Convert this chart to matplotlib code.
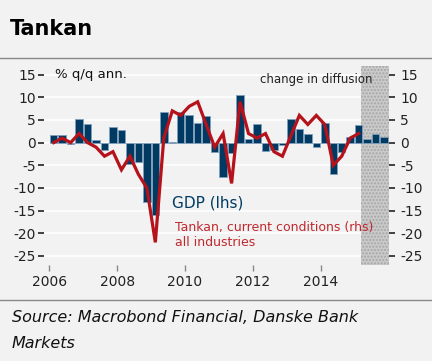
import numpy as np
import matplotlib.pyplot as plt

plt.rcParams['axes.unicode_minus'] = False

# quarterly data, 2006Q1 onwards
gdp = [1.7, 1.7, -0.4, 5.1,
       4.0, 0.6, -1.6, 3.5,
       2.7, -4.7, -4.3, -13.2,
       -16.0, 6.8, 0.2, 6.8,
       6.0, 4.3, 5.9, -2.1,
       -7.6, -2.4, 10.6, 0.8,
       4.0, -1.8, -1.7, -0.5,
       5.1, 2.9, 1.8, -0.9,
       4.3, -6.9, -2.0, 1.2,
       3.8, 0.8, 1.8, 1.3]
tankan = [0, 1, 0, 2,
          0, -1, -3, -2,
          -6, -3, -7, -10,
          -22, 1, 7, 6,
          8, 9, 4, -1,
          2, -9, 9, 2,
          1, 2, -2, -3,
          1.5, 6, 4, 6,
          4, -5, -3, 1,
          2]
year_ticks = [2006, 2008, 2010, 2012, 2014]
y_ticks = [15, 10, 5, 0, -5, -10, -15, -20, -25]
forecast_start = 2015.2

bg = '#f2f2f2'
navy = '#003a63'
red = '#b5121b'

q_gdp = 2006.125 + 0.25 * np.arange(len(gdp))
q_tankan = 2006.125 + 0.25 * np.arange(len(tankan))

fig = plt.figure(figsize=(4.32, 3.61), dpi=100, facecolor=bg)
ax = fig.add_axes([44/432, 1 - 265/361, 345/432, 199/361], facecolor=bg)

for y in y_ticks:
    ax.axhline(y, color='white', lw=1.2, zorder=0)

# shaded forecast area
ax.axvspan(forecast_start, 2016.1, facecolor='#cacaca', edgecolor='#a6a6a6',
           hatch='.....', lw=0, zorder=1)

ax.bar(q_gdp, gdp, width=0.22, color=navy, edgecolor='#7f9fbb', lw=0.6, zorder=2)
ax.plot(q_tankan, tankan, color=red, lw=2.3, zorder=3, solid_joinstyle='miter')

ax.set_xlim(2005.84, 2016.02)
ax.set_ylim(-27, 16.9)

for s in ax.spines.values():
    s.set_visible(False)

ax.set_xticks(year_ticks)
ax.set_xticklabels([str(y) for y in year_ticks], fontsize=10, color='#222')
ax.tick_params(axis='x', length=4, width=1, color='#888', pad=3)

ax.set_yticks(y_ticks)
ax.set_yticklabels([str(y) for y in y_ticks], fontsize=10, color='#222')
ax.tick_params(axis='y', length=4, width=1.3, color='#333', pad=2)

ax2 = ax.twinx()
ax2.set_ylim(ax.get_ylim())
ax2.set_yticks(y_ticks)
ax2.set_yticklabels([str(y) for y in y_ticks], fontsize=10, color='#222')
ax2.tick_params(axis='y', length=4, width=1.3, color='#333', pad=4)
for s in ax2.spines.values():
    s.set_visible(False)

ax.text(2006.15, 15, '% q/q ann.', fontsize=9.5, va='center', ha='left', color='#111')
fig.text(372/432, 1 - 79/361, 'change in diffusion', fontsize=8.5, ha='right',
         va='center', color='#222')
fig.text(172/432, 1 - 203/361, 'GDP (lhs)', fontsize=11, color=navy, va='center')
fig.text(175/432, 1 - 228/361, 'Tankan, current conditions (rhs)', fontsize=9,
         color='#c0282e', va='center')
fig.text(175/432, 1 - 243/361, 'all industries', fontsize=9,
         color='#c0282e', va='center')

fig.text(10/432, 1 - 29/361, 'Tankan', fontsize=15, fontweight='bold', va='center')
fig.add_artist(plt.Line2D([0, 1], [1 - 58/361, 1 - 58/361], color='#888', lw=1))
fig.add_artist(plt.Line2D([0, 1], [1 - 300/361, 1 - 300/361], color='#888', lw=1))
fig.text(12/432, 1 - 318/361, 'Source: Macrobond Financial, Danske Bank',
         fontsize=11.5, style='italic', va='center', color='#111')
fig.text(12/432, 1 - 344/361, 'Markets', fontsize=11.5, style='italic',
         va='center', color='#111')

fig.savefig('out.png', dpi=100, facecolor=bg)
